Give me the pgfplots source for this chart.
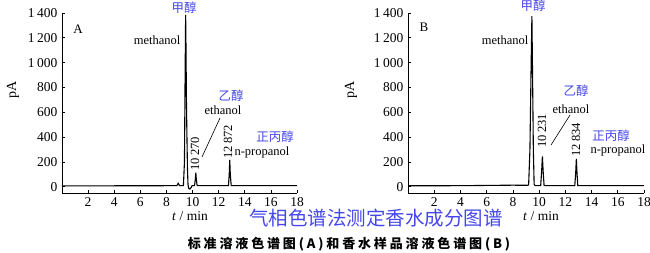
\documentclass[border=0pt]{standalone}
\usepackage{fontspec}
\setmainfont{Liberation Serif}
\newfontfamily\cjk{Noto Sans CJK SC}
\newfontfamily\cjkcap[LetterSpace=22]{Noto Sans CJK SC}
\usepackage{pgfplots}
\pgfplotsset{compat=1.18}
\definecolor{lblue}{RGB}{70,70,235}
\newcommand{\fs}[1]{\fontsize{#1}{#1}\selectfont}
\begin{document}
\begin{tikzpicture}[x=1pt,y=1pt]
\path[use as bounding box] (0,0) rectangle (650,252);
\pgfplotsset{
  chrom/.style={
    scale only axis, width=235pt, height=180pt,
    xmin=0, xmax=18, ymin=-50, ymax=1400,
    axis lines=left, axis line style={-, line width=0.9pt},
    clip=false,
    tick align=inside, major tick length=3pt,
    tick style={black, line width=0.7pt},
    xtick={2,4,...,18}, xticklabels={2,4,6,8,10,12,14,16,18},
    ytick={0,200,...,1400},
    yticklabels={0,200,400,600,800,{1\hspace{2.5pt}000},{1\hspace{2.5pt}200},{1\hspace{2.5pt}400}},
    ticklabel style={font=\fs{13.5}},
    yticklabel style={xshift=-1pt},
    xticklabel style={yshift=-1pt},
  }
}
% ---------------- Panel A ----------------
\begin{axis}[chrom, at={(62pt,59pt)}, anchor=south west]
\addplot[black, line width=1.1pt] coordinates {
(0,8) (4,8) (8.7,9) (8.8,10) (8.9,28) (9.0,10) (9.3,10) (9.38,200) (9.43,900) (9.47,1385)
(9.50,1100) (9.53,700) (9.57,400) (9.61,150) (9.65,20) (9.70,-12) (9.8,-18) (9.9,-4) (9.97,10)
(10.15,10) (10.21,60) (10.25,113) (10.29,60) (10.35,10)
(12.75,10) (12.81,100) (12.85,217) (12.89,100) (12.96,10) (18,10)};
\end{axis}
% ---------------- Panel B ----------------
\begin{axis}[chrom, at={(408pt,59pt)}, anchor=south west, width=236pt]
\addplot[black, line width=1.1pt] coordinates {
(0,8) (4,9) (8,13) (9.1,12) (9.2,14) (9.3,300) (9.38,900) (9.45,1375) (9.5,900) (9.56,300)
(9.62,20) (9.7,10)
(10.12,10) (10.19,120) (10.25,245) (10.31,120) (10.38,10)
(12.72,10) (12.79,110) (12.84,225) (12.89,110) (12.95,10) (18,10)};
\end{axis}
% ---------------- annotations A ----------------
\node[font=\fs{14}, rotate=90] at (13,162) {pA};
\node[font=\fs{13}] at (78,223) {A};
\node[font=\cjk\fs{12.5}, text=lblue] at (184,244) {甲醇};
\node[font=\fs{12.5}, anchor=east, inner sep=0pt] at (180.5,212) {methanol};
\node[font=\cjk\fs{12.5}, text=lblue] at (231,156) {乙醇};
\node[font=\fs{12.5}] at (223,142) {ethanol};
\draw[line width=0.6pt] (220,134) -- (202,95);
\node[font=\fs{12.5}, rotate=90] at (195,98) {10\hspace{2.5pt}270};
\node[font=\fs{12.5}, rotate=90] at (228,110) {12\hspace{2.5pt}872};
\node[font=\cjk\fs{12.5}, text=lblue] at (275,115) {正丙醇};
\node[font=\fs{12.5}] at (262,100) {n-propanol};
\node[font=\fs{13.5}] at (190,36) {\textit{t} / min};
% ---------------- annotations B ----------------
\node[font=\fs{14}, rotate=90] at (351,162) {pA};
\node[font=\fs{13}] at (424,225) {B};
\node[font=\cjk\fs{12.5}, text=lblue] at (533,246) {甲醇};
\node[font=\fs{12.5}, anchor=east, inner sep=0pt] at (528.5,212) {methanol};
\node[font=\cjk\fs{12.5}, text=lblue] at (576,161) {乙醇};
\node[font=\fs{12.5}] at (571,143) {ethanol};
\draw[line width=0.6pt] (570,137) -- (551,107);
\node[font=\fs{12.5}, rotate=90] at (542,121) {10\hspace{2.5pt}231};
\node[font=\fs{12.5}, rotate=90] at (576,112) {12\hspace{2.5pt}834};
\node[font=\cjk\fs{12.5}, text=lblue] at (611,116) {正丙醇};
\node[font=\fs{12.5}] at (618,102) {n-propanol};
\node[font=\fs{13.5}] at (541,36) {\textit{t} / min};
% ---------------- titles ----------------
\node[font=\cjk\fs{19.5}, text=lblue] at (376,34) {气相色谱法测定香水成分图谱};
\node[font=\cjkcap\bfseries\fs{13}] at (349,8) {标准溶液色谱图(A)和香水样品溶液色谱图(B)};
\end{tikzpicture}
\end{document}
